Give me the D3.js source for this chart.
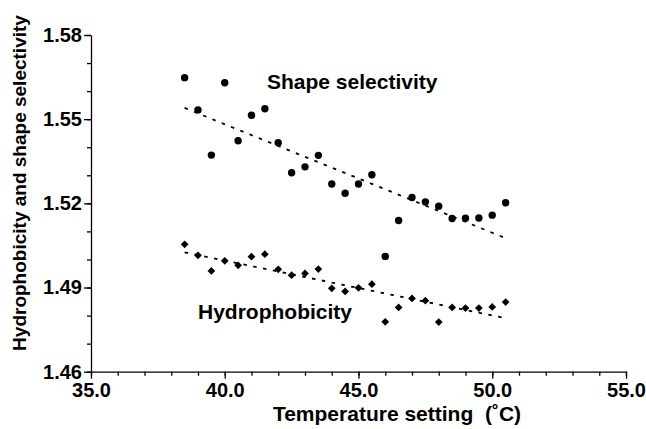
<!DOCTYPE html>
<html>
<head>
<meta charset="utf-8">
<script src="https://cdn.jsdelivr.net/npm/d3@7"></script>
<style>
  body { margin: 0; background: #fff; }
  svg text { font-family: "Liberation Sans", Arial, sans-serif; font-weight: bold; fill: #000; }
</style>
</head>
<body>
<div id="chart"></div>
<script>
// data
const temps = [38.5, 39.0, 39.5, 40.0, 40.5, 41.0, 41.5, 42.0, 42.5, 43.0, 43.5, 44.0, 44.5,
               45.0, 45.5, 46.0, 46.5, 47.0, 47.5, 48.0, 48.5, 49.0, 49.5, 50.0, 50.5];
const shapeSel = [1.5648, 1.5533, 1.5372, 1.5630, 1.5423, 1.5514, 1.5537, 1.5416, 1.5309, 1.5330,
                  1.5371, 1.5269, 1.5236, 1.5269, 1.5302, 1.5011, 1.5139, 1.5221, 1.5205, 1.5190,
                  1.5146, 1.5147, 1.5148, 1.5158, 1.5202];
const hydro = [1.5054, 1.5015, 1.4959, 1.4995, 1.4979, 1.5010, 1.5019, 1.4965, 1.4944, 1.4950,
               1.4966, 1.4897, 1.4886, 1.4899, 1.4912, 1.4778, 1.4829, 1.4861, 1.4853, 1.4777,
               1.4829, 1.4827, 1.4827, 1.4831, 1.4848];
// fitted trend lines (end points)
const fitX = [38.5, 50.5];
const shapeFit = [1.5540, 1.5076];
const hydroFit = [1.5025, 1.4791];

const xTicks = [35, 40, 45, 50, 55];
const yTicks = [1.46, 1.49, 1.52, 1.55, 1.58];

const w = 646, h = 429;

const svg = d3.select('#chart').append('svg')
    .attr('width', w)
    .attr('height', h);

const x = d3.scaleLinear().domain([35, 55]).range([91, 626]);
const y = d3.scaleLinear().domain([1.46, 1.58]).range([371.7, 35]);

// minor ticks
svg.append('g')
    .attr('transform', 'translate(0,' + y(1.46) + ')')
    .call(d3.axisBottom(x).tickValues(d3.range(35, 56, 1)).tickSize(4).tickFormat(''))
    .call(g => g.select('.domain').remove());
svg.append('g')
    .attr('transform', 'translate(' + x(35) + ',0)')
    .call(d3.axisLeft(y).tickValues(d3.range(146, 159, 1).map(d => d / 100)).tickSize(4).tickFormat(''))
    .call(g => g.select('.domain').remove());

// main axes
const xAxis = svg.append('g')
    .attr('transform', 'translate(0,' + y(1.46) + ')')
    .call(d3.axisBottom(x).tickValues(xTicks).tickSize(7).tickSizeOuter(0).tickPadding(4).tickFormat(d3.format('.1f')));
const yAxis = svg.append('g')
    .attr('transform', 'translate(' + x(35) + ',0)')
    .call(d3.axisLeft(y).tickValues(yTicks).tickSize(7).tickSizeOuter(0).tickPadding(2).tickFormat(d3.format('.2f')));

svg.selectAll('.tick line, .domain').attr('stroke', '#000').attr('stroke-width', 1.3);
xAxis.selectAll('text').style('font-size', '20px');
yAxis.selectAll('text').style('font-size', '20px');

// axis titles
svg.append('text')
    .attr('x', 397)
    .attr('y', 421)
    .attr('text-anchor', 'middle')
    .style('font-size', '21px')
    .style('white-space', 'pre')
    .text('Temperature setting  (\u02DAC)');

svg.append('text')
    .attr('transform', 'translate(26,183) rotate(-90)')
    .attr('text-anchor', 'middle')
    .style('font-size', '19px')
    .text('Hydrophobicity and shape selectivity');

// trend lines
const line = d3.line().x(d => x(d[0])).y(d => y(d[1]));
[shapeFit, hydroFit].forEach(fit => {
    svg.append('path')
        .datum(fitX.map((t, i) => [t, fit[i]]))
        .attr('d', line)
        .attr('fill', 'none')
        .attr('stroke', '#000')
        .attr('stroke-width', 1.8)
        .attr('stroke-dasharray', '3.5,6.5');
});

// points
svg.selectAll('.shape')
    .data(temps.map((t, i) => [t, shapeSel[i]]))
    .enter()
    .append('circle')
    .attr('class', 'shape')
    .attr('cx', d => x(d[0]))
    .attr('cy', d => y(d[1]))
    .attr('r', 3.7)
    .attr('fill', '#000');

svg.selectAll('.hydro')
    .data(temps.map((t, i) => [t, hydro[i]]))
    .enter()
    .append('path')
    .attr('class', 'hydro')
    .attr('d', d3.symbol().type(d3.symbolSquare).size(30))
    .attr('transform', d => 'translate(' + x(d[0]) + ',' + y(d[1]) + ') rotate(45)')
    .attr('fill', '#000');

// series labels
svg.append('text')
    .attr('x', 267)
    .attr('y', 89)
    .style('font-size', '21px')
    .text('Shape selectivity');

svg.append('text')
    .attr('x', 198)
    .attr('y', 318.5)
    .style('font-size', '21px')
    .text('Hydrophobicity');
</script>
</body>
</html>
